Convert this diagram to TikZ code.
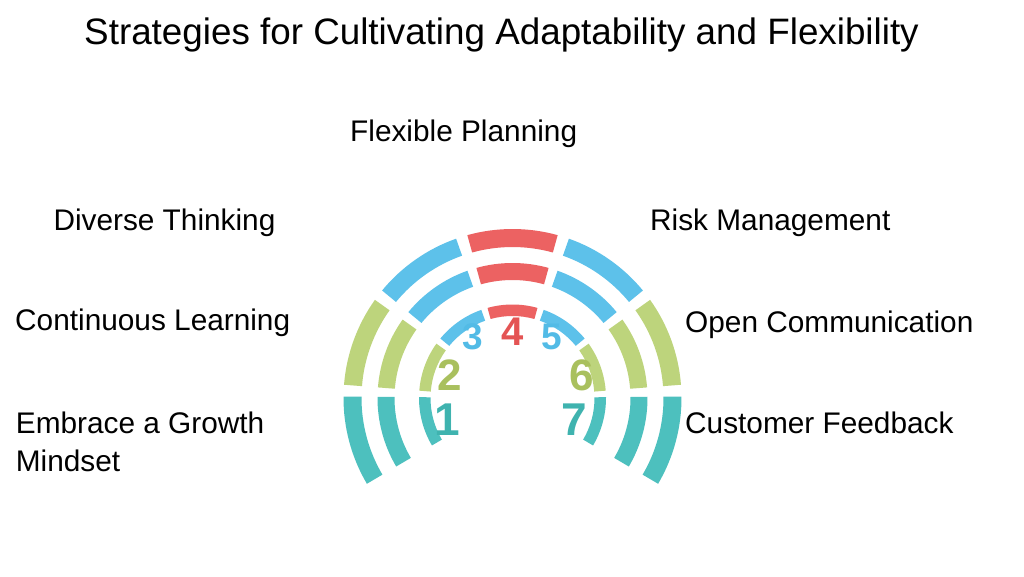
\documentclass[tikz,border=0pt]{standalone}
\usepackage{fontspec}
\setmainfont{Liberation Sans}
\usetikzlibrary{calc}
\definecolor{cRed}{HTML}{EC6262}
\definecolor{cBlue}{HTML}{5DC1EA}
\definecolor{cGreen}{HTML}{BDD47C}
\definecolor{cTeal}{HTML}{4DC0BE}
\definecolor{nRed}{HTML}{E45454}
\definecolor{nBlue}{HTML}{52BBE6}
\definecolor{nGreen}{HTML}{A9C05E}
\definecolor{nTeal}{HTML}{3FB3AF}
\newcommand\ringseg[5]{%
  \fill[#1] ($(C)+(#2:#5pt)$) arc[start angle=#2,end angle=#3,radius=#5pt]
    -- ($(C)+(#3:#4pt)$) arc[start angle=#3,end angle=#2,radius=#4pt] -- cycle;}
\tikzset{
  lbl/.style={anchor=base west, inner sep=0pt, font=\fontsize{29.8}{38}\selectfont, text=black},
  ttl/.style={anchor=base, inner sep=0pt, font=\fontsize{36.8}{44}\selectfont, text=black},
  num/.style={inner sep=0pt, font=\bfseries},
}
\begin{document}
\begin{tikzpicture}[x=1pt,y=1pt]
\useasboundingbox[fill=white] (0,0) rectangle (1024,576);
\coordinate (C) at (512.5,178);
\foreach \ri/\ro in {82/93.5,118/135,151/169}{
  \ringseg{cTeal}{179.5}{210.5}{\ri}{\ro}
  \ringseg{cGreen}{144.5}{175.5}{\ri}{\ro}
  \ringseg{cBlue}{109.5}{140.5}{\ri}{\ro}
  \ringseg{cRed}{74.5}{105.5}{\ri}{\ro}
  \ringseg{cBlue}{39.5}{70.5}{\ri}{\ro}
  \ringseg{cGreen}{4.5}{35.5}{\ri}{\ro}
  \ringseg{cTeal}{-30.5}{0.5}{\ri}{\ro}
}
\node[num, text=nTeal,  font=\fontsize{46}{46}\selectfont\bfseries] (n1) at (447,156) {1};
\node[num, text=nGreen, font=\fontsize{44}{44}\selectfont\bfseries] (n2) at (450,201) {2};
\node[num, text=nBlue,  font=\fontsize{37}{37}\selectfont\bfseries] (n3) at (473,239) {3};
\node[num, text=nRed,   font=\fontsize{40}{40}\selectfont\bfseries] (n4) at (512.5,244) {4};
\node[num, text=nBlue,  font=\fontsize{37}{37}\selectfont\bfseries] (n5) at (551.5,239) {5};
\node[num, text=nGreen, font=\fontsize{44}{44}\selectfont\bfseries] (n6) at (582,201) {6};
\node[num, text=nTeal,  font=\fontsize{46}{46}\selectfont\bfseries] (n7) at (574,156) {7};
\node[ttl] (title) at (501.5,531.5) {Strategies for Cultivating Adaptability and Flexibility};
\node[lbl] (fp) at (350,434) {Flexible Planning};
\node[lbl] (dt) at (53.3,345) {Diverse Thinking};
\node[lbl] (rm) at (650,345) {Risk Management};
\node[lbl] (cl) at (15,246) {Continuous Learning};
\node[lbl] (oc) at (685,243.3) {Open Communication};
\node[lbl, align=left] (eg) at (15.7,105) {Embrace a Growth\\Mindset};
\node[lbl] (cf) at (685,142.7) {Customer Feedback};
\end{tikzpicture}
\end{document}
